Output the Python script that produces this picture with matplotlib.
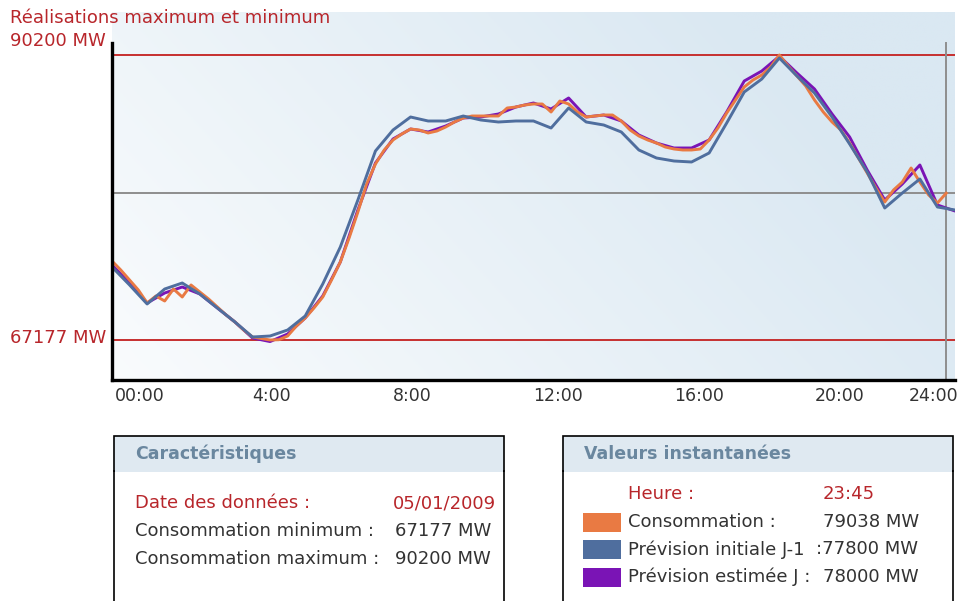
import numpy as np
import matplotlib
matplotlib.use("Agg")
import matplotlib.pyplot as plt
from matplotlib.patches import Rectangle
from matplotlib.transforms import ScaledTranslation

plt.rcParams['font.family'] = ['DejaVu Sans']

# ---------------- data ----------------
# Consommation (15-min steps, 00:00 -> 23:45), MW
consommation = [
    73559, 72832, 72025, 71217,   # 00h
    70167, 70732, 70328, 71298,   # 01h
    70651, 71621, 71055, 70490,   # 02h
    69844, 69197, 68632, 67986,   # 03h
    67420, 67300, 67177, 67200,   # 04h
    67501, 68309, 68955, 69763,   # 05h
    70651, 72025, 73479, 75417,   # 06h
    77518, 79779, 81395, 82526,   # 07h
    83334, 83818, 84222, 84142,   # 08h
    83899, 84061, 84384, 84788,   # 09h
    85111, 85273, 85273, 85273,   # 10h
    85273, 85919, 86000, 86161,   # 11h
    86242, 86242, 85596, 86484,   # 12h
    86242, 85596, 85192, 85273,   # 13h
    85353, 85353, 84869, 84142,   # 14h
    83657, 83334, 83091, 82768,   # 15h
    82607, 82526, 82526, 82607,   # 16h
    83334, 84303, 85515, 86565,   # 17h
    87615, 88181, 88584, 89231,   # 18h
    90200, 89312, 88504, 87696,   # 19h
    86565, 85596, 84788, 84142,   # 20h
    83091, 81880, 80668, 79456,   # 21h
    78325, 79295, 79941, 81072,   # 22h
    79941, 78891, 78245, 79038,   # 23h
]

# Prévision initiale J-1 (30-min steps, 00:00 -> 24:00), MW
prev_initiale = [
    73075, 71621, 70086, 71297, 71782, 70894, 69763, 68632,
    67420, 67501, 67985, 69116, 71701, 74690, 78487, 82445,
    84141, 85192, 84869, 84869, 85272, 84949, 84788, 84869,
    84869, 84303, 85919, 84788, 84545, 83980, 82526, 81880,
    81637, 81557, 82284, 84707, 87211, 88261, 89958, 88504,
    87130, 85192, 83011, 80749, 77841, 79052, 80183, 77921,
    77679,
]

# Prévision estimée J (30-min steps, 00:00 -> 24:00), MW
prev_estimee = [
    73236, 71782, 70167, 70974, 71459, 70894, 69763, 68632,
    67339, 67050, 67662, 68955, 70732, 73479, 77679, 81476,
    83415, 84222, 83980, 84465, 85111, 85192, 85434, 86000,
    86323, 85838, 86727, 85192, 85353, 84869, 83738, 83091,
    82688, 82688, 83334, 85596, 88100, 88908, 90100, 88746,
    87454, 85434, 83576, 80910, 78487, 79779, 81314, 78083,
    77598,
]

t_conso = np.arange(len(consommation)) * 0.25
t_prev = np.arange(len(prev_initiale)) * 0.5

conso_min = 67177
conso_max = 90200
heure_courante = 23.75
heure_label = "23:45"
date_donnees = "05/01/2009"
val_conso = 79038
val_initiale = 77800
val_estimee = 78000

xtick_pos = [0, 4, 8, 12, 16, 20, 24]
xtick_lab = ["00:00", "4:00", "8:00", "12:00", "16:00", "20:00", "24:00"]

# ---------------- style ----------------
C_ORANGE = '#E97A43'
C_BLUE = '#4F6E9E'
C_PURPLE = '#7A14B5'
C_RED = '#C62F2F'
C_GREY = '#8E8E8E'
C_TXT_RED = '#B8262B'
C_TXT = '#333333'
C_HEAD_BG = '#DFE9F1'
C_HEAD_TXT = '#6A879F'

W, H = 966, 601
fig = plt.figure(figsize=(W / 100, H / 100), dpi=100)

ax = fig.add_axes([112 / W, 1 - 380 / H, (955 - 112) / W, (380 - 12) / H], zorder=1)
# overlay axes in pixel coordinates for texts & panels (drawn above the chart)
ov = fig.add_axes([0, 0, 1, 1], zorder=2)
ov.set_xlim(0, W)
ov.set_ylim(H, 0)
ov.axis('off')

ymin, ymax = 63946, 93674
ax.set_xlim(0, 24)
ax.set_ylim(ymin, ymax)

# gradient background
nx, ny = 300, 200
gx = np.linspace(0, 1, nx)[None, :]
gy = np.linspace(0, 1, ny)[:, None]
tt = np.clip(0.15 + 0.75 * gx + 0.3 * gy, 0, 1)
c0 = np.array([1.0, 1.0, 1.0])
c1 = np.array([0xDA, 0xE8, 0xF2]) / 255.0
img = c0[None, None, :] * (1 - tt[..., None]) + c1[None, None, :] * tt[..., None]
ax.imshow(img, extent=[0, 24, ymin, ymax], origin='lower', aspect='auto', zorder=0)

# reference lines
ax.axhline(conso_max, color=C_RED, lw=1.4, zorder=1)
ax.axhline(conso_min, color=C_RED, lw=1.4, zorder=1)
ax.axhline(val_conso, color=C_GREY, lw=1.4, zorder=1)
ax.plot([heure_courante, heure_courante], [ymin, 91169], color=C_GREY, lw=1.4, zorder=1)

# series
ax.plot(t_prev, prev_estimee, color=C_PURPLE, lw=2.1, zorder=3)
ax.plot(t_conso, consommation, color=C_ORANGE, lw=2.1, zorder=4)
ax.plot(t_prev, prev_initiale, color=C_BLUE, lw=2.1, zorder=5)

for s in ['top', 'right']:
    ax.spines[s].set_visible(False)
ax.spines['left'].set_linewidth(2.4)
ax.spines['left'].set_bounds(ymin, 91169)
ax.spines['bottom'].set_linewidth(2.4)
ax.spines['left'].set_zorder(6)
ax.spines['bottom'].set_zorder(6)
ax.set_yticks([])
ax.set_xticks(xtick_pos)
ax.set_xticklabels(xtick_lab, fontsize=12.5, color=C_TXT)
ax.tick_params(axis='x', length=0, pad=5)
labs = ax.get_xticklabels()
for i, lb in enumerate(labs):
    lb.set_horizontalalignment('right' if i == len(labs) - 1 else 'left')
labs[0].set_transform(labs[0].get_transform() + ScaledTranslation(3 / 100, 0, fig.dpi_scale_trans))
labs[-1].set_transform(labs[-1].get_transform() + ScaledTranslation(3 / 100, 0, fig.dpi_scale_trans))

fs = 13
# texts at the left
ov.text(10, 18, "Réalisations maximum et minimum", color=C_TXT_RED, fontsize=fs,
        va='center', ha='left')
ov.text(10, 41, f"{conso_max} MW", color=C_TXT_RED, fontsize=fs, va='center', ha='left')
ov.text(10, 338, f"{conso_min} MW", color=C_TXT_RED, fontsize=fs, va='center', ha='left')


def panel(x0, x1, title):
    ov.add_patch(Rectangle((x0, 471), x1 - x0, H - 471 + 5, facecolor='white',
                           edgecolor='black', lw=1.2))
    ov.add_patch(Rectangle((x0, 436), x1 - x0, 35, facecolor=C_HEAD_BG,
                           edgecolor='black', lw=1.2))
    ov.add_patch(Rectangle((x0 + 0.8, 470), x1 - x0 - 1.6, 2, facecolor=C_HEAD_BG,
                           edgecolor='none', lw=0))
    ov.text(x0 + 21, 454, title, color=C_HEAD_TXT, fontsize=12.5, fontweight='bold',
            va='center', ha='left')


panel(114, 504, "Caractéristiques")
panel(563, 953, "Valeurs instantanées")

ov.text(135, 503, "Date des données :", color=C_TXT_RED, fontsize=fs, va='center')
ov.text(393, 503, date_donnees, color=C_TXT_RED, fontsize=fs, va='center')
ov.text(135, 531, "Consommation minimum :", color=C_TXT, fontsize=fs, va='center')
ov.text(395, 531, f"{conso_min} MW", color=C_TXT, fontsize=fs, va='center')
ov.text(135, 559, "Consommation maximum :", color=C_TXT, fontsize=fs, va='center')
ov.text(395, 559, f"{conso_max} MW", color=C_TXT, fontsize=fs, va='center')

ov.text(628, 494, "Heure :", color=C_TXT_RED, fontsize=fs, va='center')
ov.text(823, 494, heure_label, color=C_TXT_RED, fontsize=fs, va='center')

rows = [
    (C_ORANGE, "Consommation :", f"{val_conso} MW", 823),
    (C_BLUE, "Prévision initiale J-1", f":{val_initiale} MW", 816),
    (C_PURPLE, "Prévision estimée J :", f"{val_estimee} MW", 823),
]
for i, (c, lab, val, xv) in enumerate(rows):
    yc = 522 + i * 27.5
    ov.add_patch(Rectangle((583, yc - 9.5), 38, 19, facecolor=c, edgecolor='none'))
    ov.text(628, yc, lab, color=C_TXT, fontsize=fs, va='center')
    ov.text(xv, yc, val, color=C_TXT, fontsize=fs, va='center')

fig.savefig("out.png", dpi=100)
